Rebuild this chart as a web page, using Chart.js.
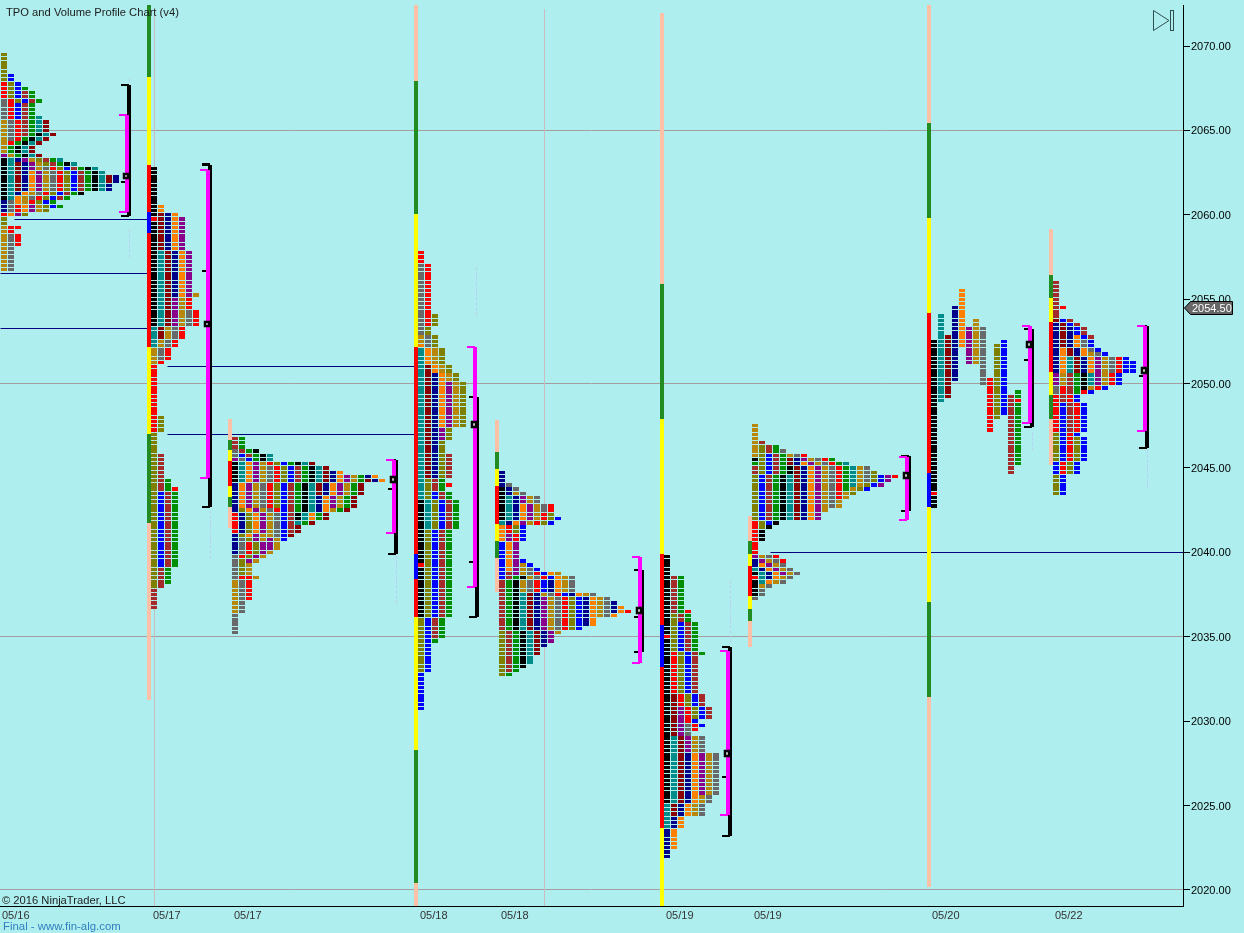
<!DOCTYPE html>
<html>
<head>
<meta charset="utf-8">
<title>TPO and Volume Profile Chart (v4)</title>
<script src="https://cdn.jsdelivr.net/npm/chart.js@4/dist/chart.umd.js"></script>
<style>
  html, body { margin: 0; background: #afeeee; }
  canvas { display: block; }
</style>
</head>
<body>
<canvas id="chart" width="1244" height="933"></canvas>
<script>
// TPO periods: [letter, high price, low price, fixed column (only for the unconsolidated session)]
const session0 = [
  ['M',2063.5,2063.5],['A',2065.5,2063.5],['B',2066.75,2064.5],['C',2067.75,2064.25],['D',2069.5,2066.75],
  ['E',2068.25,2065.75],['F',2067.25,2064.75],['G',2067.5,2063.5],['H',2064.75,2063.5],['I',2065.75,2063.5],['J',2065.5,2063.5],
  ['H',2063.25,2061],['K',2060.75,2060.25],['I',2063.25,2061],['B',2060.75,2060.25],['J',2063,2061.5],['C',2060.5,2060],
  ['K',2063.25,2061.25],['L',2062.5,2060],['M',2063.25,2061.5],['M',2060.5,2060],['A',2063.25,2060.25],['B',2062.75,2061],
  ['C',2062.75,2060.75],['D',2063.25,2060],['E',2062.75,2060.5],['F',2063.25,2061],['G',2063.25,2060.5],['H',2063,2061.25],
  ['I',2063.25,2061.5],['J',2062.25,2062],['K',2062.25,2061.5],
  ['D',2059.75,2059.5],['A',2059.25,2056.75],['B',2058.75,2056.75],['C',2059.25,2058.25],['C',2059.25,2059.25]
];
const session1 = [
  ['H',2062.75,2060],['C',2059.75,2059.75],['H',2059.5,2053.5],['I',2057.75,2052.25],['J',2060,2052.75],['K',2060,2055.25],
  ['L',2060.5,2055.25],['M',2059.75,2053.5],['A',2055.25,2051.25],['B',2054.25,2051.5],['C',2055,2047.25],
  ['D',2048,2038],['E',2043.5,2039.25],['F',2045.75,2036.75],['G',2044.25,2038.25],['C',2043.75,2043.75]
];
const session2 = [
  ['M',2045.5,2045.5],['B',2046,2045.5],['E',2045.75,2045.5],['F',2046.75,2045.75],['G',2046.75,2045.5],['H',2046,2045.5],['I',2045.75,2045.5],
  ['H',2045.25,2044.25],['C',2042.25,2041.25],['K',2044,2040],['I',2045.25,2044.25],
  ['A',2038.25,2036.5],['B',2040.75,2035.25],['C',2040.5,2039.75],['C',2038.5,2037.25],['C',2038.5,2038.5],['D',2042.5,2038.75],
  ['L',2045.25,2041],['M',2045.25,2040.25],['A',2045.25,2040.75],['M',2040.75,2039.5],['A',2041,2038.5],['B',2045,2041],['C',2045.25,2042.5],
  ['D',2045.25,2042.75],['E',2045.25,2040.75],['F',2045,2041.25],['G',2045.25,2042.5],['H',2045.25,2042],['I',2045.25,2041.75],
  ['J',2045.25,2043.5],['K',2044.75,2042.5],['L',2044.75,2042],['M',2044.5,2042.75],['A',2044.5,2042.5],['G',2044.5,2041.75],
  ['J',2044.25,2041],['K',2044.5,2044.25],['L',2044.5,2044.25]
];
const session3 = [
  ['H',2043,2039.5],['C',2039.25,2039.25],['H',2039,2036.25],['I',2052,2041.5],['J',2051,2044.5],['K',2050.5,2044.5],
  ['A',2052.75,2052.5],['L',2052.25,2047.5],['M',2050,2046.75],['A',2052,2047.5],['B',2057,2052.25],['C',2057.75,2053.5],
  ['D',2054,2033],['E',2043.5,2030.75],['F',2045.75,2035],['G',2044.25,2034.75],['C',2044,2044]
];
const session4 = [
  ['E',2040.5,2038.5],['D',2035.25,2032.75],['F',2038.75,2033],['G',2038.5,2032.75],['H',2038.5,2033.25],['I',2037.5,2033.5],
  ['J',2037.5,2034],['K',2037.5,2034.5],
  ['H',2043.75,2042],['I',2043.25,2041.75],['K',2044.75,2041.75],['L',2042.75,2039],['M',2043.25,2041.75],['M',2041,2038.75],
  ['A',2043.5,2041.75],['B',2044,2042.5],['C',2042.75,2040.75],['D',2042.25,2041.25],['E',2042,2040.75],
  ['M',2037.25,2034.75],['A',2039.25,2035.25],['B',2039,2035.5],['C',2038.75,2035.5],['D',2037.25,2035.5],['E',2039.5,2035.5],
  ['K',2038.25,2035.75],['L',2038.75,2035.75],['A',2038.75,2036.25],['B',2038.5,2036.25],['K',2037,2036.5],['L',2036.75,2036.25],['C',2036.5,2036.5]
];
const session5 = [
  ['H',2039.75,2035.25],['C',2035,2035],['H',2034.75,2025.25],['I',2029,2023.75],['J',2031.5,2024.5],['K',2028,2022],['L',2028,2022.5],
  ['M',2030.75,2025.75],['A',2029,2024.5],['B',2029.75,2024.5],['C',2034,2029.5],['D',2036.25,2030.25],['E',2035.75,2029.75],
  ['F',2038.5,2030.25],['G',2038.5,2034],['C',2036.5,2036.5]
];
const session6 = [
  ['C',2041.75,2040],['A',2047.5,2045.75],['H',2045.5,2045.5],['G',2045.25,2045.25],['F',2045,2044.75],['D',2046.25,2041.5],
  ['E',2045.75,2041.75],['F',2046.5,2042],['G',2046.25,2042],['H',2045,2040.75],['I',2044.5,2042],['J',2045.5,2042],['K',2045.5,2042],
  ['L',2045.25,2042],['M',2045.5,2042],['A',2045.75,2042.5],['B',2046,2042.75],['C',2045.75,2043.25],['G',2045.5,2043.75],['I',2045.25,2044],
  ['A',2045,2042.75],['B',2045,2044.25],['D',2044.75,2043.5],['E',2044.5,2043.75],['M',2044.5,2044],['C',2044.5,2044.5],
  ['H',2038.75,2038.75],['C',2038.5,2038.5],['H',2038.25,2037.5],['I',2039,2038.25],['K',2039.5,2038.5],['L',2039.25,2038.25],
  ['M',2039.75,2038.75],['A',2039.75,2038],['B',2039.75,2037.25],['C',2039.75,2039.5]
];
const session7 = [
  ['H',2052.5,2043.75,0],['C',2043.5,2043.5,0],['H',2043.25,2042.75,0],['I',2054,2049,1],['J',2052.75,2049.25,2],['K',2054.5,2050.25,3],
  ['L',2055.5,2052.25,4],['M',2053.25,2051.25,5],['A',2053.75,2051.25,6],['B',2053.25,2050,7],['C',2050.25,2047.25,8],['D',2052.25,2048,9],
  ['E',2052.5,2048.25,10],['F',2049.25,2044.75,11],['G',2049.5,2049.25,12],['C',2049,2049,12],['G',2048.75,2045.25,12]
];
const session8 = [
  ['D',2047,2045.5],['D',2044.5,2043.5],['K',2053.5,2050.75],['M',2050.5,2050],['B',2049.75,2049.5],['C',2049.25,2047.25],['E',2048.75,2043.5],
  ['L',2052,2050.75],['A',2050.5,2050],['C',2049.75,2049.5],['I',2051.5,2050.75],['J',2053.75,2050.75],['K',2053.25,2050.75],['L',2052.75,2050.75],
  ['F',2050.5,2047.25],['G',2050.5,2049.5],['H',2050.5,2049.75],['I',2050.5,2050],['M',2051.5,2050],['A',2051.75,2050],['A',2049.75,2049.75],
  ['B',2052.5,2050.75],['C',2051.5,2050],['C',2049.75,2044.75],['D',2046.75,2044.75],['E',2053.75,2050.75],['F',2056,2052.75],['C',2054.5,2054.5],
  ['E',2051.25,2050],['E',2049.75,2044.75]
];
const sessions = [session0, session1, session2, session3, session4, session5, session6, session7, session8];
// x axis counts profile columns; each session's first column
const sessionSlots = [0.5714, 22, 33.5714, 60.1429, 71.7143, 95.2857, 107.8571, 133.4286, 150.8571];

// range band beside each session: [zone, high, low]
const bandSlots = [21.2857, 32.8571, 59.4286, 71, 94.5714, 107.1429, 132.7143, 150.1429];
const bands = [
  [['wide',2072.43,2068.16],['mid',2068.16,2062.95],['core',2062.95,2060.17],['mode',2060.17,2058.92],['core',2058.92,2052.17],['mid',2052.17,2047.01],['wide',2047.01,2041.74],['outer',2041.74,2031.25]],
  [['outer',2047.9,2046.66],['wide',2046.66,2046.07],['mid',2046.07,2045.41],['core',2045.41,2043.93],['mid',2043.93,2043.28],['wide',2043.28,2042.69],['outer',2042.69,2041.44]],
  [['outer',2072.43,2067.93],['wide',2067.93,2060.05],['mid',2060.05,2052.17],['core',2052.17,2039.91],['mode',2039.91,2038.42],['core',2038.42,2036.17],['mid',2036.17,2028.29],['wide',2028.29,2020.41],['outer',2020.41,2019.05]],
  [['outer',2047.84,2045.95],['wide',2045.95,2044.94],['mid',2044.94,2043.93],['core',2043.93,2041.68],['mid',2041.68,2040.68],['wide',2040.68,2039.67],['outer',2039.67,2037.65]],
  [['outer',2071.95,2055.9],['wide',2055.9,2047.9],['mid',2047.9,2039.9],['core',2039.9,2035.7],['mode',2035.7,2033.2],['core',2033.2,2023.67],['mid',2023.67,2019.05]],
  [['outer',2042.16,2040.67],['wide',2040.67,2039.9],['mid',2039.9,2039.19],['core',2039.19,2037.42],['mid',2037.42,2036.65],['wide',2036.65,2035.94],['outer',2035.94,2034.4]],
  [['outer',2072.43,2065.44],['wide',2065.44,2059.81],['mid',2059.81,2054.18],['core',2054.18,2044.7],['mode',2044.7,2042.69],['mid',2042.69,2037.06],['wide',2037.06,2031.43],['outer',2031.43,2020.18]],
  [['outer',2059.16,2056.43],['wide',2056.43,2055.07],['mid',2055.07,2053.65],['core',2053.65,2050.69],['mid',2050.69,2049.32],['wide',2049.32,2047.9],['outer',2047.9,2045.18]]
];

// value area / range brackets right of each profile
const bracketSlots = [18.1429, 29.7143, 56.2857, 67.8571, 91.4286, 104, 129.5714, 147.1429, 163.5714];
const rangeHighs = [2067.69, 2062.98, 2045.47, 2049.2, 2038.96, 2034.4, 2045.71, 2053.23, 2053.41];
const rangeLows = [2059.93, 2042.69, 2039.91, 2036.17, 2034.1, 2023.2, 2042.45, 2047.43, 2046.18];
const valueHighs = [2065.91, 2062.65, 2045.47, 2052.17, 2039.73, 2034.16, 2045.65, 2053.41, 2053.41];
const valueLows = [2060.17, 2044.41, 2041.15, 2037.95, 2033.45, 2024.44, 2041.92, 2047.67, 2047.19];
const pocPrices = [2062.3, 2053.53, 2044.29, 2047.55, 2036.53, 2028.06, 2044.53, 2052.29, 2050.8];
const bracketTicks = [2061.94, 2056.67, 2043.76, 2039.43, 2036.17, 2026.69, null, 2051.4, 2050.45];

// naked POC lines: [from slot, to slot, price]
const nakedLines = [[2.14,21.14,2059.75],[0,21.14,2056.5],[0,21.14,2053.25],[23.86,59.29,2051],[23.86,59.29,2047],[110,169,2040]];
// faint dashed marks: [slot, high, low]
const faintMarks = [[18.43,2068.1,2067.8],[18.43,2059.1,2057.44],[30.14,2042.5,2039.55],[56.64,2039.79,2037],[68.14,2056.85,2053.89],[104.29,2038.36,2034.5],[147.57,2047.13,2046.07],[163.86,2046.07,2043.87]];
const dayRuleSlots = [22, 77.7143];

const dateLabels = ['05/16','05/17','05/17','05/18','05/18','05/19','05/19','05/20','05/22'];
const dateSlots = [0.2857, 21.8571, 33.4286, 60, 71.5714, 95.1429, 107.7143, 133.1429, 150.7143];
const priceTicks = [2020, 2025, 2030, 2035, 2040, 2045, 2050, 2055, 2060, 2065, 2070];
const gridPrices = [2020, 2035, 2050, 2065];
const lastPrice = 2054.5;

const letterColors = {
  A: '#b8860b', B: '#696969', C: '#ff0000', D: '#808000', E: '#0000ff', F: '#a52a2a', G: '#008f00',
  H: '#000000', I: '#008b8b', J: '#8b0000', K: '#00008b', L: '#ff7f00', M: '#8b008b'
};
const zoneColors = { outer: '#ffc0a8', wide: '#228b22', mid: '#ffff00', core: '#ff0000', mode: '#0000ff' };
const fontName = '"Liberation Sans", Arial, sans-serif';

// stack each period's cells left to right, one row per quarter point
const cells = {};
Object.keys(letterColors).forEach(k => cells[k] = []);
sessions.forEach((periods, s) => {
  const used = {};
  periods.forEach(([letter, high, low, column]) => {
    for (let p = high; p >= low; p -= 0.25) {
      const n = column !== undefined ? column : (used[p] || 0);
      used[p] = n + 1;
      cells[letter].push({ x: sessionSlots[s] + n, y: [p - 0.1, p + 0.1] });
    }
  });
});

const zoneBars = {};
Object.keys(zoneColors).forEach(k => zoneBars[k] = []);
bands.forEach((band, i) => {
  band.forEach(([zone, high, low]) => zoneBars[zone].push({ x: bandSlots[i], y: [low, high] }));
});

const blackOffset = 2 / 7;
const capOffset = 4 / 7;
const capHalf = 0.06;
const blackCaps = [], magentaCaps = [];
bracketSlots.forEach((slot, i) => {
  [rangeHighs[i], rangeLows[i], bracketTicks[i]].forEach(p => {
    if (p !== null) blackCaps.push({ x: slot + blackOffset - capOffset, y: [p - capHalf, p + capHalf] });
  });
  [valueHighs[i], valueLows[i]].forEach(p => {
    magentaCaps.push({ x: slot - capOffset, y: [p - capHalf, p + capHalf] });
  });
});

function barSet(data, color, thickness, order) {
  return { type: 'bar', data, backgroundColor: color, barThickness: thickness, grouped: false, inflateAmount: 0, order };
}
function lineSet(points, color, order, dash) {
  // an empty segment option makes the line stroke directly on the context
  return { type: 'line', data: points, borderColor: color, borderWidth: 1, borderDash: dash || [], pointRadius: 0, segment: {}, order };
}

const datasets = [];
datasets.push(barSet(dayRuleSlots.map(x => ({ x, y: [2019.05, 2072.2] })), '#c9bcc0', 1, 9));
nakedLines.forEach(l => datasets.push(lineSet([{ x: l[0], y: l[2] }, { x: l[1], y: l[2] }], '#000080', 8)));
faintMarks.forEach(m => datasets.push(lineSet([{ x: m[0], y: m[1] }, { x: m[0], y: m[2] }], '#b8cff0', 8, [3, 2])));
Object.keys(cells).forEach(k => datasets.push(barSet(cells[k], letterColors[k], 6, 5)));
Object.keys(zoneBars).forEach(k => datasets.push(barSet(zoneBars[k], zoneColors[k], 4, 4)));
datasets.push(barSet(bracketSlots.map((s, i) => ({ x: s + blackOffset, y: [rangeLows[i], rangeHighs[i]] })), '#000000', 4, 3));
datasets.push(barSet(blackCaps, '#000000', 8, 3));
datasets.push(barSet(bracketSlots.map((s, i) => ({ x: s, y: [valueLows[i], valueHighs[i]] })), '#ff00ff', 4, 2));
datasets.push(barSet(magentaCaps, '#ff00ff', 8, 2));
datasets.push({
  type: 'scatter',
  data: bracketSlots.map((s, i) => ({ x: s - 1 / 7, y: pocPrices[i] })),
  pointStyle: 'rect', pointRadius: 3.5, borderColor: '#000000', borderWidth: 2.5, backgroundColor: '#ffffff', order: 1
});

// the source platform draws on whole pixels, so snap rectangles and hairlines
const crispPlugin = {
  id: 'crisp',
  beforeDatasetsDraw(chart) {
    const c = chart.ctx;
    const rect = c.rect, moveTo = c.moveTo, lineTo = c.lineTo;
    c.rect = (x, y, w, h) => {
      const l = Math.round(x), t = Math.round(y);
      rect.call(c, l, t, Math.round(x + w) - l, Math.round(y + h) - t);
    };
    c.moveTo = (x, y) => moveTo.call(c, Math.floor(x) + 0.5, Math.floor(y) + 0.5);
    c.lineTo = (x, y) => lineTo.call(c, Math.floor(x) + 0.5, Math.floor(y) + 0.5);
  },
  afterDatasetsDraw(chart) {
    delete chart.ctx.rect;
    delete chart.ctx.moveTo;
    delete chart.ctx.lineTo;
  }
};

const notesPlugin = {
  id: 'notes',
  afterDraw(chart) {
    const c = chart.ctx;
    c.save();
    c.textBaseline = 'alphabetic';
    c.textAlign = 'left';
    c.font = '11.2px ' + fontName;
    c.fillStyle = '#1c1c1c';
    c.fillText('TPO and Volume Profile Chart (v4)', 6, 16);
    c.fillText('\u00a9 2016 NinjaTrader, LLC', 2, 904);
    c.font = '11.4px ' + fontName;
    c.fillStyle = '#2f7fc0';
    c.fillText('Final - www.fin-alg.com', 3, 930);

    // go-to-last-bar button
    c.strokeStyle = '#2f4f4f';
    c.lineWidth = 1;
    c.beginPath();
    c.moveTo(1153.5, 10.5); c.lineTo(1153.5, 30.5); c.lineTo(1169, 20.5); c.closePath();
    c.stroke();
    c.strokeRect(1170.5, 10.5, 3, 20);

    // last price tag
    const y = Math.round(chart.scales.y.getPixelForValue(lastPrice));
    c.fillStyle = '#666666';
    c.strokeStyle = '#000000';
    c.beginPath();
    c.moveTo(1184.5, y);
    c.lineTo(1190.5, y - 6.5); c.lineTo(1232.5, y - 6.5); c.lineTo(1232.5, y + 6.5); c.lineTo(1190.5, y + 6.5);
    c.closePath();
    c.fill();
    c.stroke();
    c.font = '11px ' + fontName;
    c.fillStyle = '#ffffff';
    c.fillText(lastPrice.toFixed(2), 1192, y + 4);
    c.restore();
  }
};

new Chart(document.getElementById('chart').getContext('2d'), {
  type: 'bar',
  data: { datasets },
  plugins: [crispPlugin, notesPlugin],
  options: {
    responsive: false,
    animation: false,
    events: [],
    layout: { autoPadding: false, padding: { top: 5, left: 0, right: 0, bottom: 0 } },
    plugins: { legend: { display: false }, tooltip: { enabled: false } },
    scales: {
      x: {
        type: 'linear',
        min: 0,
        max: 169,
        offset: false,
        afterFit(s) { s.height = 27; s.paddingLeft = 0; s.paddingRight = 0; },
        afterBuildTicks(s) { s.ticks = dateSlots.map(value => ({ value })); },
        grid: { display: false, drawTicks: false, tickLength: 0 },
        border: { display: true, color: '#000000', width: 1 },
        ticks: {
          autoSkip: false,
          maxRotation: 0,
          align: 'start',
          padding: 3,
          color: '#333333',
          font: { family: fontName, size: 11 },
          callback: (v, i) => dateLabels[i]
        }
      },
      y: {
        position: 'right',
        min: 2019.05,
        max: 2072.43,
        afterFit(s) { s.width = 61; s.paddingTop = 0; s.paddingBottom = 0; },
        afterBuildTicks(s) { s.ticks = priceTicks.map(value => ({ value })); },
        grid: {
          color: c => gridPrices.includes(c.tick && c.tick.value) ? '#a59ea0' : 'rgba(0,0,0,0)',
          tickColor: '#000000',
          tickLength: 7
        },
        border: { display: true, color: '#000000', width: 1 },
        ticks: {
          padding: 1,
          labelOffset: 1,
          color: '#000000',
          font: { family: fontName, size: 11 },
          callback: v => v.toFixed(2)
        }
      }
    }
  }
});
</script>
</body>
</html>
